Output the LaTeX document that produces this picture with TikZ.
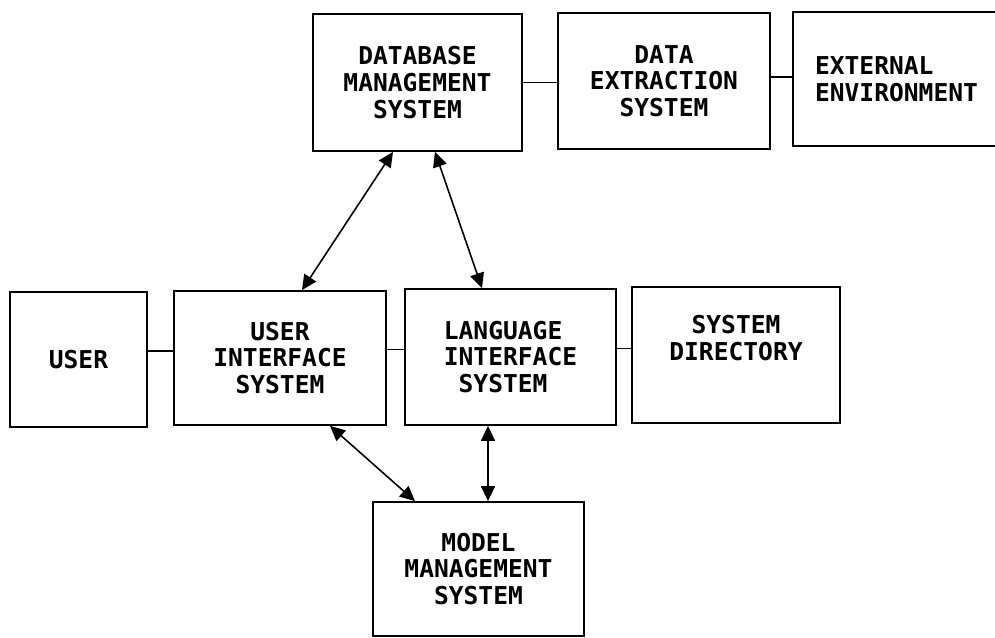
\documentclass[tikz,border=0pt]{standalone}
\usepackage{fontspec}
\setmonofont{DejaVu Sans Mono}
\usetikzlibrary{positioning,arrows.meta,calc}
\tikzset{
  blk/.style={rectangle, draw=black, line width=1pt, align=center,
              font=\fontsize{14}{15.2}\selectfont\ttfamily\bfseries, inner sep=0pt},
  link/.style={draw=black, line width=1pt},
  biflow/.style={{Triangle[length=3mm,width=2.8mm]}-{Triangle[length=3mm,width=2.8mm]},
                 draw=black, line width=0.9pt},
}
\begin{document}
\begin{tikzpicture}[x=0.02cm, y=-0.02cm]
  \clip (0,0) rectangle (995,638);
  % --- top row ---
  \node[blk, minimum width=4.18cm, minimum height=2.74cm] (dbms) at (417.5,82.5)
    {DATABASE\\MANAGEMENT\\SYSTEM};
  \node[blk, minimum width=4.24cm, minimum height=2.72cm] (dex) at (664,81)
    {DATA\\EXTRACTION\\SYSTEM};
  \node[blk, minimum width=4.14cm, minimum height=2.68cm, align=left] (ext) at (896.5,79)
    {EXTERNAL\\ENVIRONMENT};

  % --- middle row ---
  \node[blk, minimum width=2.74cm, minimum height=2.70cm] (user) at (78.5,359.5) {USER};
  \node[blk, minimum width=4.24cm, minimum height=2.68cm] (ui) at (280,358)
    {USER\\INTERFACE\\SYSTEM};
  \node[blk, minimum width=4.22cm, minimum height=2.72cm, align=left] (li) at (510.5,357)
    {LANGUAGE\\INTERFACE\\\ SYSTEM};
  \node[blk, minimum width=4.16cm, minimum height=2.72cm] (sd) at (736,355)
    {SYSTEM\\DIRECTORY\\\strut};

  % --- bottom ---
  \node[blk, minimum width=4.22cm, minimum height=2.68cm] (mms) at (478.5,569)
    {MODEL\\MANAGEMENT\\SYSTEM};

  % plain links
  \draw[link] (dbms.east) -- (dbms.east -| dex.west);
  \draw[link] ([yshift=0.08cm]dex.east) -- ([yshift=0.08cm]dex.east -| ext.west);
  \draw[link] ([yshift=0.17cm]user.east) -- ([yshift=0.17cm]user.east -| ui.west);
  \draw[link] ([yshift=0.17cm]ui.east) -- ([yshift=0.17cm]ui.east -| li.west);
  \draw[link] ([yshift=0.17cm]li.east) -- ([yshift=0.17cm]li.east -| sd.west);

  % two-way flows
  \draw[biflow] ($(dbms.south)+(-24.5,0)$) -- ($(ui.north)+(22,0)$);
  \draw[biflow] ($(dbms.south)+(17.5,0)$) -- ($(li.north)+(-28.5,0)$);
  \draw[biflow] ($(ui.south)+(50,0)$) -- ($(mms.north)+(-63.5,0)$);
  \draw[biflow] ($(li.south)+(-22.5,0)$) -- ($(mms.north)+(9.5,0)$);
\end{tikzpicture}
\end{document}
